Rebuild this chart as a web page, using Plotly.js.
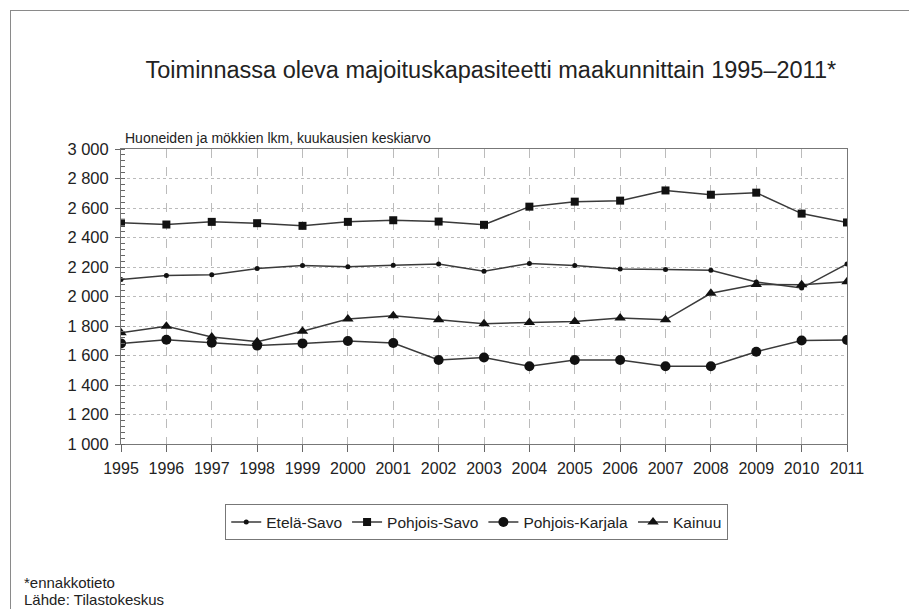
<!DOCTYPE html>
<html>
<head>
<meta charset="utf-8">
<script src="https://cdn.plot.ly/plotly-3.0.1.min.js"></script>
<style>
  html, body { margin:0; padding:0; background:#fff; overflow:hidden; }
  #frame { position:absolute; left:10px; top:10px; width:1000px; height:1000px; border:1px solid #8a8a8a; box-sizing:border-box; }
  #chart { position:absolute; left:0; top:0; width:909px; height:609px; }
</style>
</head>
<body>
<div id="frame"></div>
<div id="chart"></div>
<script>
const years = [1995,1996,1997,1998,1999,2000,2001,2002,2003,2004,2005,2006,2007,2008,2009,2010,2011];
const etelaSavo = [2116,2143,2147,2190,2210,2201,2212,2221,2172,2224,2210,2187,2183,2178,2098,2057,2221];
const pohjoisSavo = [2500,2488,2506,2497,2479,2506,2517,2508,2486,2609,2643,2650,2719,2690,2704,2562,2502];
const pohjoisKarjala = [1682,1707,1687,1667,1682,1698,1685,1570,1586,1527,1570,1570,1527,1527,1626,1702,1705];
const kainuu = [1754,1799,1725,1694,1765,1848,1869,1842,1815,1824,1830,1855,1842,2022,2082,2079,2100];
const seriesNames = ['Etelä-Savo','Pohjois-Savo','Pohjois-Karjala','Kainuu'];

const lineStyle = {color:'#3a3a3a', width:1.5};
const traces = [
  {x:years, y:etelaSavo, name:seriesNames[0], mode:'lines+markers', line:lineStyle, marker:{symbol:'circle', size:5, color:'#111'}},
  {x:years, y:pohjoisSavo, name:seriesNames[1], mode:'lines+markers', line:lineStyle, marker:{symbol:'square', size:8, color:'#111'}},
  {x:years, y:pohjoisKarjala, name:seriesNames[2], mode:'lines+markers', line:lineStyle, marker:{symbol:'circle', size:10, color:'#111'}},
  {x:years, y:kainuu, name:seriesNames[3], mode:'lines+markers', line:lineStyle, marker:{symbol:'triangle-up', size:10, color:'#111'}}
];

const layout = {
  width:909, height:609,
  paper_bgcolor:'rgba(0,0,0,0)', plot_bgcolor:'#fff',
  margin:{l:121, r:62, t:149, b:165},
  font:{family:'Liberation Sans, Arial, sans-serif', size:16, color:'#222'},
  separators:', ',
  title:{text:'Toiminnassa oleva majoituskapasiteetti maakunnittain 1995–2011*', font:{size:23.5, color:'#222'}, xref:'container', x:0.54, xanchor:'center', yref:'container', y:0.885, yanchor:'middle'},
  xaxis:{range:[1995,2011], tickvals:years, ticktext:years.map(String), showline:true, mirror:true, linecolor:'#777', linewidth:1,
         ticks:'outside', ticklen:7, tickcolor:'#666', showgrid:true, gridcolor:'#bbb', griddash:'dash', gridwidth:1, zeroline:false,
         tickfont:{size:16}, ticklabelstandoff:3},
  yaxis:{range:[1000,3000], dtick:200, tickformat:',d', showline:true, mirror:true, linecolor:'#777', linewidth:1,
         ticks:'outside', ticklen:5, tickcolor:'#666', showgrid:true, gridcolor:'#bbb', griddash:'dot', gridwidth:1, zeroline:false,
         minor:{dtick:40, ticks:'inside', ticklen:4, tickcolor:'#666', showgrid:false},
         tickfont:{size:16.5}, ticklabelstandoff:3},
  showlegend:true,
  legend:{orientation:'h', x:0.49, xanchor:'center', y:-0.205, yanchor:'top', bordercolor:'#777', borderwidth:1, font:{size:15.5}, itemwidth:30, tracegroupgap:0},
  annotations:[
    {text:'Huoneiden ja mökkien lkm, kuukausien keskiarvo', xref:'paper', yref:'paper', x:0.003, y:1.005, xanchor:'left', yanchor:'bottom', showarrow:false, font:{size:14}},
    {text:'*ennakkotieto', xref:'paper', yref:'paper', x:(22-121)/726, y:(444-582)/295, xanchor:'left', yanchor:'middle', align:'left', showarrow:false, font:{size:15}},
    {text:'Lähde: Tilastokeskus', xref:'paper', yref:'paper', x:(22-121)/726, y:(444-599)/295, xanchor:'left', yanchor:'middle', align:'left', showarrow:false, font:{size:15}}
  ]
};

Plotly.newPlot('chart', traces, layout, {displayModeBar:false, staticPlot:true});
</script>
</body>
</html>
